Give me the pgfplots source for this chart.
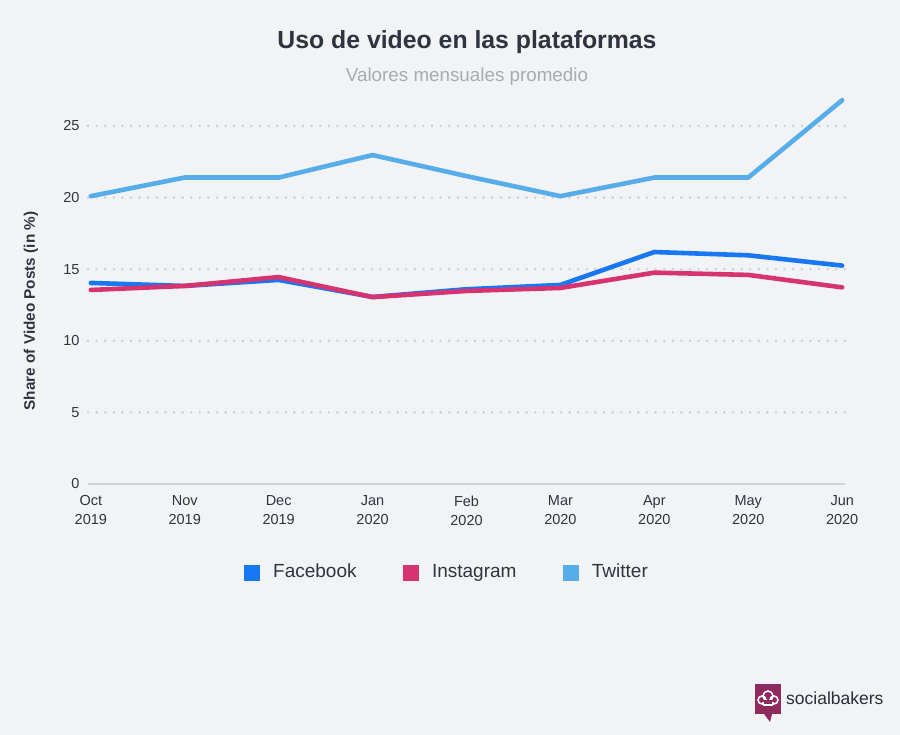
\documentclass[border=0pt]{standalone}
\usepackage{pgfplots}
\pgfplotsset{compat=1.18}
\usepackage{fontspec}
\setmainfont{Liberation Sans}
\definecolor{bg}{HTML}{F2F3F5}
\definecolor{fb}{HTML}{1877F2}
\definecolor{ig}{HTML}{D63370}
\definecolor{tw}{HTML}{57ACEA}
\definecolor{txt}{HTML}{2E3440}
\definecolor{sub}{HTML}{A7ABB1}
\definecolor{gridc}{HTML}{C9CCD1}
\definecolor{sb}{HTML}{8E2A5D}
\begin{document}
\begin{tikzpicture}[x=1pt,y=1pt]
\useasboundingbox (0,0) rectangle (900,735);
\fill[bg] (0,0) rectangle (900,735);
\node[font=\fontsize{24.8}{29}\selectfont\bfseries, text=txt] at (467,693) {Uso de video en las plataformas};
\node[font=\fontsize{18.8}{22}\selectfont, text=sub] at (467,658) {Valores mensuales promedio};
\node[font=\fontsize{15.3}{18}\selectfont\bfseries, text=txt, rotate=90] at (31,424) {Share of Video Posts (in \%)};
\begin{axis}[
  at={(88pt,251pt)}, anchor=south west,
  scale only axis, width=757pt, height=389.5pt,
  xmin=-0.03, xmax=8.03, ymin=0, ymax=27.2,
  axis line style={draw=none}, major tick length=0,
  ytick={5,10,15,20,25}, ymajorgrids,
  grid style={gridc, line width=2.6pt, line cap=round, dash pattern=on 0pt off 8.6pt},
  extra y ticks={0}, extra y tick style={grid style={solid, line width=2pt, line cap=butt, color=gridc!85!white}},
  xtick={0,1,2,3,4,5,6,7,8},
  xticklabels={{Oct\\2019},{Nov\\2019},{Dec\\2019},{Jan\\2020},{Feb\\2020},{Mar\\2020},{Apr\\2020},{May\\2020},{Jun\\2020}},
  xticklabel style={align=center, font=\fontsize{14.5}{19}\selectfont, text=txt, yshift=-8pt},
  yticklabel style={font=\fontsize{14.5}{17}\selectfont, text=txt, xshift=-5pt},
  /pgf/number format/assume math mode=true,
  legend style={at={(0.474,-0.229)}, anchor=center, draw=none, fill=none,
    font=\fontsize{19}{22}\selectfont, text=txt, legend columns=3,
    nodes={text height=13.5pt, text depth=4pt},
    /tikz/every even column/.append style={column sep=44pt}},
  legend image code/.code={\fill[#1] (0pt,-7.5pt) rectangle (15pt,7.5pt);},
  legend cell align=left,
]
\addplot[fb, line width=4.6pt, line cap=round, line join=round, forget plot] coordinates {(0,14.04) (1,13.83) (2,14.25) (3,13.06) (4,13.6) (5,13.9) (6,16.2) (7,15.97) (8,15.25)};
\addplot[ig, line width=4.6pt, line cap=round, line join=round, forget plot] coordinates {(0,13.55) (1,13.83) (2,14.45) (3,13.05) (4,13.48) (5,13.69) (6,14.76) (7,14.6) (8,13.73)};
\addplot[tw, line width=4.6pt, line cap=round, line join=round, forget plot] coordinates {(0,20.1) (1,21.4) (2,21.4) (3,22.97) (4,21.5) (5,20.1) (6,21.4) (7,21.4) (8,26.8)};
\addlegendimage{fb}\addlegendentry{\hspace{12pt}Facebook}
\addlegendimage{ig}\addlegendentry{\hspace{12pt}Instagram}
\addlegendimage{tw}\addlegendentry{\hspace{12pt}Twitter}
\end{axis}
% logo
\fill[sb] (755,21) rectangle (781,51);
\fill[sb] (764,21) -- (770,13) -- (772,21) -- cycle;
\draw[white, line width=1.5pt] (762,35) circle (4) (774,35) circle (4) (768,39) circle (5);
\fill[sb] (763,30) rectangle (773,35);
\draw[white, line width=1.5pt] (763,30) -- (773,30) (763,30) -- (763,33) (773,30) -- (773,33);
\node[font=\fontsize{17.5}{20}\selectfont, text=txt!90!black, anchor=west, inner sep=0] at (786,37) {socialbakers};
\end{tikzpicture}
\end{document}
